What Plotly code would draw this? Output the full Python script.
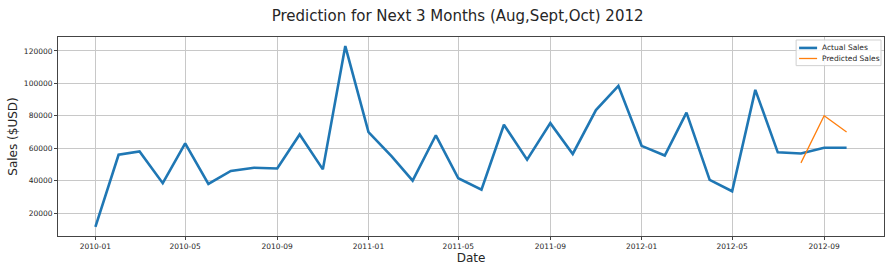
import plotly.graph_objects as go

dates = ["2010-01-01","2010-02-01","2010-03-01","2010-04-01","2010-05-01","2010-06-01",
         "2010-07-01","2010-08-01","2010-09-01","2010-10-01","2010-11-01","2010-12-01",
         "2011-01-01","2011-02-01","2011-03-01","2011-04-01","2011-05-01","2011-06-01",
         "2011-07-01","2011-08-01","2011-09-01","2011-10-01","2011-11-01","2011-12-01",
         "2012-01-01","2012-02-01","2012-03-01","2012-04-01","2012-05-01","2012-06-01",
         "2012-07-01","2012-08-01","2012-09-01","2012-10-01"]
actual_sales = [11500, 56000, 58000, 38500, 63000, 38000,
                46000, 48000, 47500, 68500, 47000, 123000,
                70000, 55000, 40000, 68000, 41500, 34500,
                74500, 53000, 75500, 56500, 83500, 98500,
                61500, 55500, 82000, 40500, 33500, 96000,
                57500, 56800, 60300, 60300]
pred_dates = ["2012-08-01", "2012-09-01", "2012-10-01"]
pred_sales = [51000, 80000, 70000]

tick_dates = ["2010-01-01","2010-05-01","2010-09-01","2011-01-01","2011-05-01",
              "2011-09-01","2012-01-01","2012-05-01","2012-09-01"]
tick_labels = ["2010-01","2010-05","2010-09","2011-01","2011-05",
               "2011-09","2012-01","2012-05","2012-09"]
y_ticks = [20000, 40000, 60000, 80000, 100000, 120000]

series_names = ["Actual Sales", "Predicted Sales"]
series_colors = ["#1f77b4", "#ff7f0e"]
series_widths = [2.6, 1.3]

fig = go.Figure()
fig.add_trace(go.Scatter(x=dates, y=actual_sales, mode="lines", name=series_names[0],
                         line=dict(color=series_colors[0], width=series_widths[0])))
fig.add_trace(go.Scatter(x=pred_dates, y=pred_sales, mode="lines", name=series_names[1],
                         line=dict(color=series_colors[1], width=series_widths[1])))

font = "DejaVu Sans"

# compact matplotlib-style legend (paper coordinates)
shapes = [dict(type="rect", xref="paper", yref="paper", x0=0.8936, x1=0.9964, y0=0.856, y1=0.985,
               line=dict(color="#d0d0d0", width=1), fillcolor="rgba(255,255,255,0.85)", layer="above")]
annotations = []
leg_y = [0.945, 0.892]
for name, col, w, yy in zip(series_names, series_colors, series_widths, leg_y):
    shapes.append(dict(type="line", xref="paper", yref="paper", x0=0.8972, x1=0.9190, y0=yy, y1=yy,
                       line=dict(color=col, width=w), layer="above"))
    annotations.append(dict(text=name, xref="paper", yref="paper", x=0.9230, y=yy,
                            xanchor="left", yanchor="middle", showarrow=False,
                            font=dict(size=7.5, family=font, color="#262626")))

fig.update_layout(
    width=892, height=268,
    margin=dict(l=58, r=7, t=37, b=30),
    paper_bgcolor="white", plot_bgcolor="white",
    font=dict(family=font, color="#262626", size=8),
    title=dict(text="Prediction for Next 3 Months (Aug,Sept,Oct) 2012",
               x=0.513, xanchor="center", y=0.94, yanchor="middle",
               font=dict(size=15, family=font, color="#262626")),
    showlegend=False,
    shapes=shapes,
    annotations=annotations,
    xaxis=dict(range=["2009-11-12", "2012-11-20"], tickvals=tick_dates, ticktext=tick_labels,
               showgrid=True, gridcolor="#c8c8c8", gridwidth=1,
               showline=True, linecolor="#444444", linewidth=1, mirror=True,
               ticks="outside", ticklen=3, tickcolor="#444444",
               tickfont=dict(size=7.5, family=font),
               title=dict(text="Date", font=dict(size=12, family=font), standoff=2),
               zeroline=False),
    yaxis=dict(range=[5925, 128575], tickvals=y_ticks, tickformat="d",
               showgrid=True, gridcolor="#c8c8c8", gridwidth=1,
               showline=True, linecolor="#444444", linewidth=1, mirror=True,
               ticks="outside", ticklen=3, tickcolor="#444444",
               tickfont=dict(size=7.5, family=font),
               title=dict(text="Sales ($USD)", font=dict(size=12, family=font), standoff=3),
               zeroline=False),
)

fig.write_html("out.html")
